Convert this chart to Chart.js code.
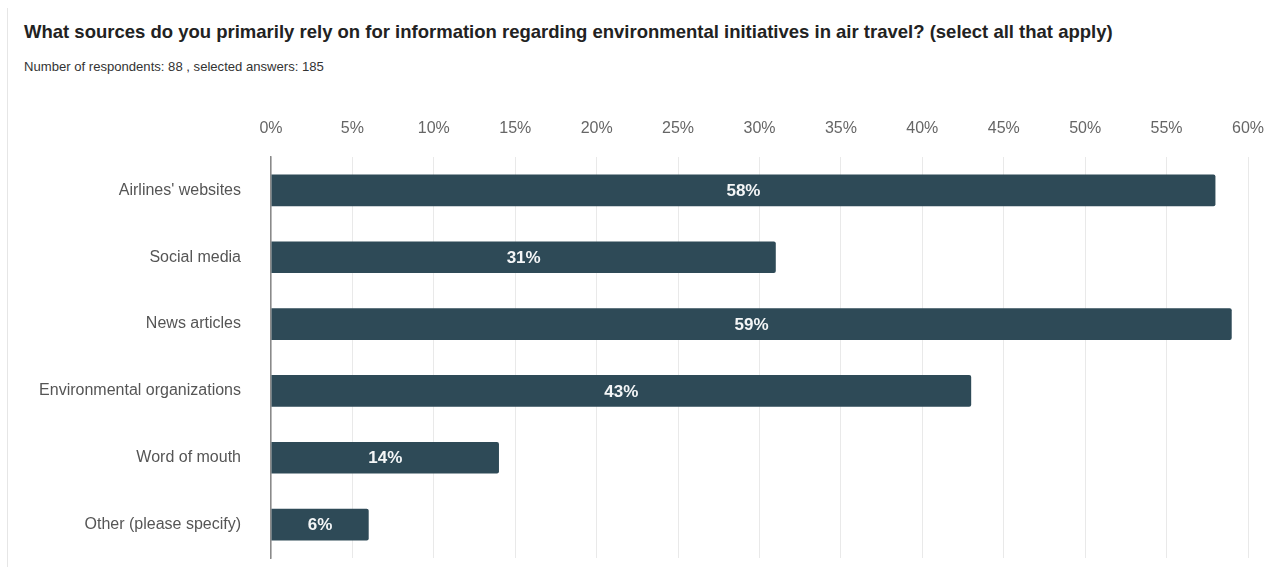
<!DOCTYPE html>
<html>
<head>
<meta charset="utf-8">
<script src="https://cdn.jsdelivr.net/npm/chart.js@4/dist/chart.umd.min.js"></script>
<style>
  html, body { margin: 0; padding: 0; background: #fff; overflow: hidden; }
  body { width: 1271px; height: 567px; position: relative; font-family: "Liberation Sans", Arial, sans-serif; }
  .card { position: absolute; left: 7px; top: 8px; width: 0; bottom: 0; border-left: 1px solid #e6e6e6; }
  h1 { position: absolute; left: 24px; top: 21px; margin: 0; font-size: 18.5px; font-weight: bold; color: #222; white-space: nowrap; }
  .sub { position: absolute; left: 24px; top: 59px; margin: 0; font-size: 13.1px; color: #333; white-space: nowrap; }
  #chart { position: absolute; left: 0; top: 100px; }
</style>
</head>
<body>
<div class="card"></div>
<h1>What sources do you primarily rely on for information regarding environmental initiatives in air travel? (select all that apply)</h1>
<p class="sub">Number of respondents: 88 , selected answers: 185</p>
<canvas id="chart" width="1271" height="467"></canvas>
<script>
const categories = [
  "Airlines' websites",
  "Social media",
  "News articles",
  "Environmental organizations",
  "Word of mouth",
  "Other (please specify)"
];
const percents = [58, 31, 59, 43, 14, 6];
const tickValues = [0, 5, 10, 15, 20, 25, 30, 35, 40, 45, 50, 55, 60];

const fontFamily = "'Liberation Sans', Arial, sans-serif";

// writes the percentage in white in the middle of each bar
const barLabels = {
  id: "barLabels",
  afterDatasetsDraw(chart) {
    const ctx = chart.ctx;
    const meta = chart.getDatasetMeta(0);
    ctx.save();
    ctx.fillStyle = "#f4f6f7";
    ctx.font = "bold 17px " + fontFamily;
    ctx.textAlign = "center";
    ctx.textBaseline = "middle";
    meta.data.forEach((bar, i) => {
      const mid = (bar.x + bar.base) / 2;
      ctx.fillText(percents[i] + "%", mid, bar.y + 1);
    });
    ctx.restore();
  }
};

new Chart(document.getElementById("chart"), {
  type: "bar",
  data: {
    labels: categories,
    datasets: [{
      data: percents,
      backgroundColor: "#2e4a57",
      borderRadius: 2,
      borderSkipped: "start",
      barPercentage: 0.475,
      categoryPercentage: 1
    }]
  },
  options: {
    indexAxis: "y",
    responsive: false,
    animation: false,
    layout: { padding: { left: 0, right: 23, top: 0, bottom: 9 } },
    plugins: {
      legend: { display: false },
      tooltip: { enabled: false }
    },
    scales: {
      x: {
        position: "top",
        min: 0,
        max: 60,
        afterBuildTicks(scale) {
          scale.ticks = tickValues.map(v => ({ value: v }));
        },
        afterFit(scale) {
          scale.height = 57;
          scale.paddingLeft = 0;
          scale.paddingRight = 0;
        },
        grid: { color: "#e9e9e9", lineWidth: 1, drawTicks: false },
        border: { display: false },
        ticks: {
          padding: 19,
          color: "#666",
          font: { family: fontFamily, size: 16 },
          callback: v => v + "%"
        }
      },
      y: {
        afterFit(scale) {
          scale.width = 271;
          scale.paddingTop = 0;
          scale.paddingBottom = 0;
        },
        grid: { display: false, drawTicks: false },
        border: { display: true, color: "#8a8a8a", width: 1.5 },
        ticks: {
          padding: 30,
          color: "#555",
          font: { family: fontFamily, size: 16 }
        }
      }
    }
  },
  plugins: [barLabels]
});
</script>
</body>
</html>
